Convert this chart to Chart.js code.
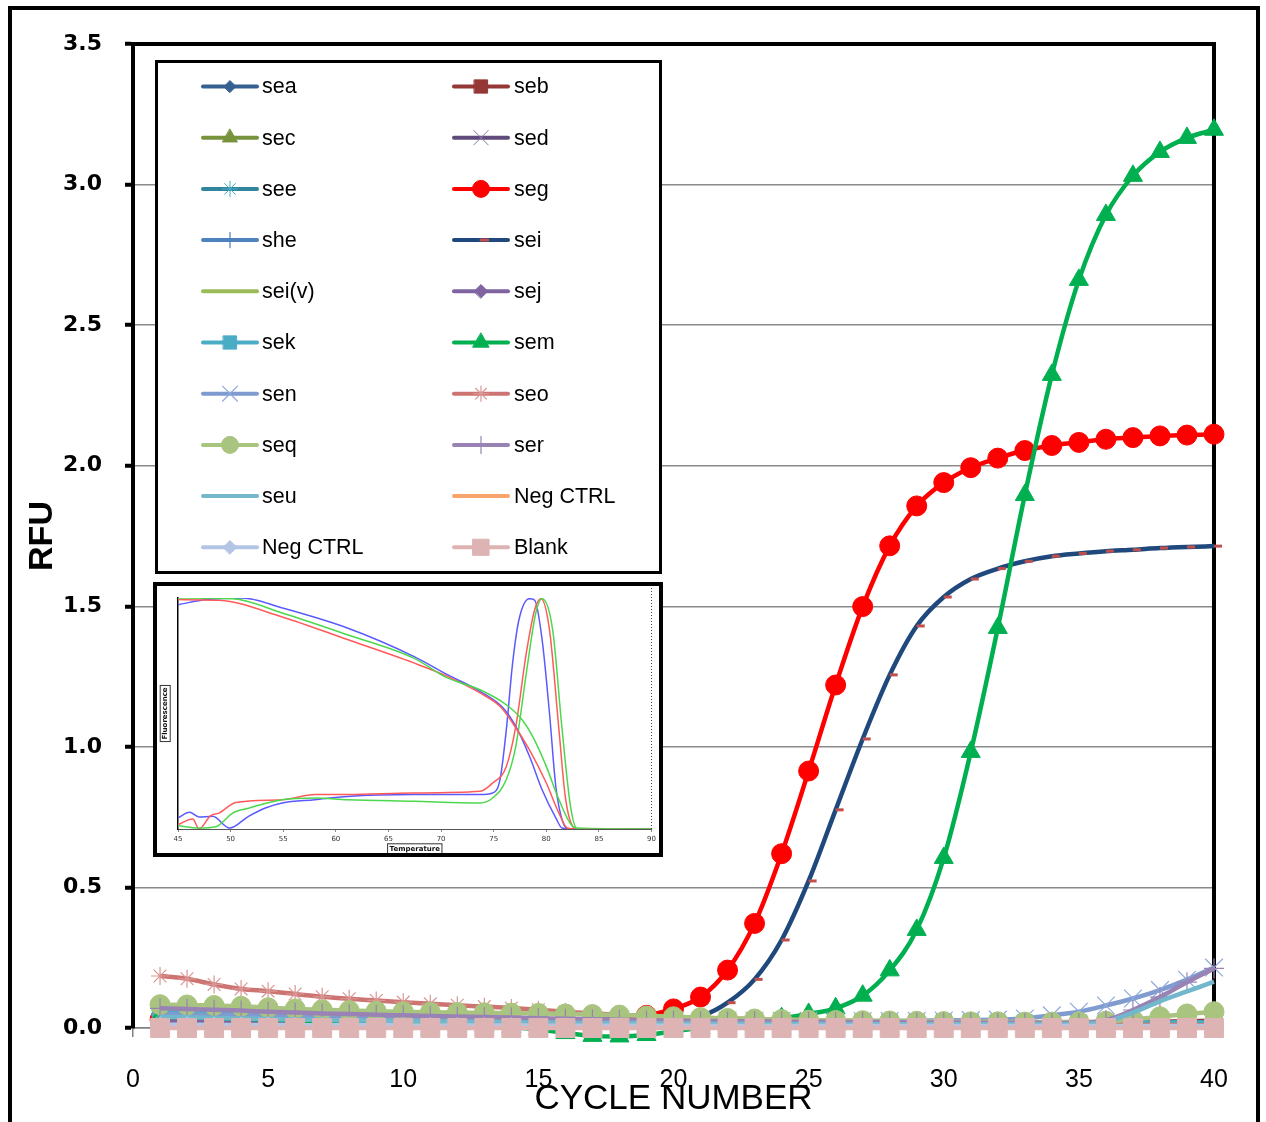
<!DOCTYPE html>
<html>
<head>
<meta charset="utf-8">
<script src="https://cdn.jsdelivr.net/npm/chart.js@4.4.1/dist/chart.umd.min.js"></script>
<style>
  html, body { margin: 0; padding: 0; background: #fff; }
  #wrap { position: relative; width: 1266px; height: 1122px; overflow: hidden; background: #fff; }
  #main { position: absolute; left: 0; top: 0; }
  #inset { position: absolute; left: 153px; top: 582px; width: 510px; height: 275px;
           border: 4px solid #000; box-sizing: border-box; background: #fff; }
  #melt { position: absolute; left: 0; top: 0; }
  #frame { position: absolute; left: 8px; top: 6px; width: 1252px; height: 1140px;
           border: 4px solid #000; box-sizing: border-box; pointer-events: none; }
</style>
</head>
<body>
<div id="wrap">
  <canvas id="main" width="1266" height="1122"></canvas>
  <div id="inset"><canvas id="melt" width="502" height="267"></canvas></div>
  <div id="frame"></div>
</div>
<script>
// ---- amplification data (RFU per cycle) ----
const cycles = [1,2,3,4,5,6,7,8,9,10,11,12,13,14,15,16,17,18,19,20,21,22,23,24,25,26,27,28,29,30,31,32,33,34,35,36,37,38,39,40];

const sea  = [0.035,0.034,0.032,0.031,0.030,0.029,0.028,0.027,0.026,0.025,0.025,0.024,0.023,0.023,0.022,0.022,0.021,0.021,0.020,0.020,0.019,0.019,0.019,0.018,0.018,0.018,0.017,0.017,0.017,0.016,0.016,0.016,0.016,0.015,0.015,0.015,0.015,0.015,0.014,0.014];
const seb  = [0.022,0.021,0.021,0.020,0.020,0.019,0.019,0.019,0.018,0.018,0.018,0.017,0.017,0.017,0.016,0.016,0.016,0.016,0.015,0.015,0.015,0.015,0.015,0.014,0.014,0.014,0.014,0.014,0.014,0.014,0.014,0.015,0.015,0.016,0.017,0.018,0.020,0.022,0.024,0.026];
const sec  = [0.030,0.029,0.027,0.026,0.025,0.024,0.023,0.022,0.021,0.020,0.019,0.018,0.017,0.016,0.015,0.014,0.013,0.012,0.012,0.011,0.011,0.010,0.010,0.010,0.009,0.009,0.009,0.009,0.008,0.008,0.008,0.008,0.008,0.008,0.008,0.008,0.008,0.008,0.008,0.008];
const sed  = [0.020,0.019,0.019,0.018,0.018,0.017,0.017,0.016,0.016,0.015,0.015,0.015,0.014,0.014,0.014,0.013,0.013,0.013,0.013,0.012,0.012,0.012,0.012,0.012,0.011,0.011,0.011,0.011,0.011,0.011,0.011,0.011,0.011,0.012,0.012,0.012,0.013,0.014,0.015,0.016];
const see  = [0.050,0.048,0.046,0.044,0.042,0.040,0.038,0.036,0.035,0.033,0.032,0.031,0.030,0.029,0.028,0.027,0.026,0.025,0.024,0.023,0.022,0.022,0.021,0.021,0.020,0.020,0.019,0.019,0.019,0.018,0.018,0.018,0.018,0.018,0.018,0.018,0.019,0.019,0.020,0.021];
const seg  = [0.030,0.030,0.029,0.029,0.028,0.028,0.028,0.027,0.027,0.027,0.026,0.026,0.026,0.026,0.026,0.027,0.029,0.034,0.045,0.068,0.110,0.206,0.372,0.620,0.914,1.220,1.499,1.715,1.857,1.940,1.993,2.027,2.054,2.072,2.083,2.094,2.100,2.106,2.109,2.112];
const she  = [0.045,0.044,0.042,0.040,0.038,0.036,0.035,0.033,0.032,0.031,0.030,0.029,0.028,0.027,0.026,0.025,0.024,0.024,0.023,0.022,0.022,0.021,0.021,0.020,0.020,0.019,0.019,0.019,0.018,0.018,0.018,0.018,0.018,0.018,0.018,0.018,0.018,0.018,0.018,0.018];
const sei  = [0.022,0.022,0.021,0.021,0.021,0.020,0.020,0.020,0.019,0.019,0.019,0.018,0.018,0.018,0.018,0.017,0.017,0.017,0.016,0.018,0.040,0.090,0.173,0.313,0.523,0.776,1.028,1.256,1.430,1.533,1.597,1.634,1.660,1.678,1.688,1.696,1.701,1.707,1.711,1.714];
const seiV = [0.030,0.029,0.028,0.027,0.026,0.025,0.024,0.023,0.022,0.021,0.020,0.019,0.018,0.017,0.016,0.015,0.014,0.013,0.013,0.012,0.012,0.011,0.011,0.011,0.010,0.010,0.010,0.010,0.010,0.010,0.010,0.010,0.010,0.010,0.010,0.010,0.011,0.011,0.012,0.012];
const sej  = [0.025,0.024,0.023,0.022,0.022,0.021,0.020,0.020,0.019,0.019,0.018,0.018,0.017,0.017,0.017,0.016,0.016,0.016,0.015,0.015,0.015,0.015,0.014,0.014,0.014,0.014,0.014,0.013,0.013,0.013,0.013,0.013,0.013,0.013,0.013,0.013,0.013,0.014,0.014,0.015];
const sek  = [0.060,0.058,0.055,0.052,0.049,0.047,0.045,0.043,0.041,0.039,0.037,0.036,0.034,0.033,0.032,0.030,0.029,0.028,0.027,0.026,0.025,0.024,0.024,0.023,0.022,0.022,0.021,0.021,0.020,0.020,0.020,0.019,0.019,0.019,0.019,0.019,0.019,0.019,0.020,0.020];
const sem  = [0.040,0.038,0.035,0.032,0.030,0.027,0.025,0.022,0.020,0.017,0.014,0.011,0.007,0.003,-0.005,-0.018,-0.028,-0.030,-0.025,-0.012,0.000,0.012,0.022,0.035,0.050,0.070,0.115,0.205,0.349,0.605,0.982,1.423,1.896,2.323,2.661,2.892,3.031,3.116,3.166,3.195];
const sen  = [0.050,0.048,0.046,0.045,0.043,0.042,0.040,0.039,0.038,0.037,0.036,0.035,0.034,0.033,0.032,0.031,0.030,0.029,0.028,0.028,0.027,0.027,0.026,0.026,0.026,0.025,0.025,0.025,0.026,0.027,0.028,0.030,0.034,0.045,0.058,0.080,0.105,0.135,0.172,0.215];
const seo  = [0.185,0.175,0.155,0.139,0.131,0.121,0.111,0.104,0.098,0.092,0.086,0.081,0.076,0.071,0.065,0.058,0.052,0.047,0.043,0.040,0.037,0.034,0.032,0.030,0.028,0.026,0.024,0.022,0.020,0.018,0.016,0.015,0.014,0.013,0.012,0.012,0.011,0.011,0.010,0.010];
const seq  = [0.083,0.082,0.080,0.077,0.072,0.068,0.065,0.062,0.060,0.058,0.056,0.055,0.054,0.053,0.052,0.050,0.048,0.046,0.043,0.040,0.037,0.034,0.032,0.030,0.028,0.027,0.026,0.025,0.024,0.023,0.022,0.022,0.021,0.021,0.022,0.024,0.030,0.040,0.050,0.058];
const ser  = [0.070,0.068,0.065,0.062,0.058,0.055,0.052,0.050,0.047,0.045,0.043,0.041,0.039,0.037,0.035,0.033,0.031,0.029,0.027,0.026,0.025,0.024,0.024,0.023,0.022,0.022,0.021,0.021,0.020,0.020,0.019,0.019,0.019,0.018,0.018,0.028,0.064,0.110,0.163,0.212];
const seu  = [0.040,0.038,0.036,0.034,0.032,0.030,0.029,0.027,0.026,0.025,0.024,0.023,0.022,0.021,0.020,0.019,0.018,0.018,0.017,0.016,0.016,0.015,0.015,0.014,0.014,0.014,0.013,0.013,0.013,0.013,0.013,0.013,0.013,0.013,0.013,0.022,0.055,0.095,0.130,0.165];
const negCtrl1 = [0.008,0.008,0.008,0.007,0.007,0.007,0.007,0.006,0.006,0.006,0.006,0.006,0.005,0.005,0.005,0.005,0.005,0.005,0.005,0.005,0.004,0.004,0.004,0.004,0.004,0.004,0.004,0.004,0.004,0.004,0.004,0.004,0.004,0.004,0.004,0.004,0.004,0.004,0.004,0.004];
const negCtrl2 = [0.012,0.012,0.011,0.011,0.011,0.010,0.010,0.010,0.010,0.009,0.009,0.009,0.009,0.009,0.008,0.008,0.008,0.008,0.008,0.008,0.008,0.007,0.007,0.007,0.007,0.007,0.007,0.007,0.007,0.007,0.007,0.007,0.007,0.007,0.007,0.007,0.007,0.007,0.007,0.007];
const blank = [0,0,0,0,0,0,0,0,0,0,0,0,0,0,0,0,0,0,0,0,0,0,0,0,0,0,0,0,0,0,0,0,0,0,0,0,0,0,0,0];

const seriesNames = ['sea','seb','sec','sed','see','seg','she','sei','sei(v)','sej','sek','sem','sen','seo','seq','ser','seu','Neg CTRL','Neg CTRL','Blank'];
const seriesValues = [sea, seb, sec, sed, see, seg, she, sei, seiV, sej, sek, sem, sen, seo, seq, ser, seu, negCtrl1, negCtrl2, blank];

const yTickLabels = ['0.0','0.5','1.0','1.5','2.0','2.5','3.0','3.5'];

// ---- inset melt curve data (normalised) ----
const meltBlueT  = [45, 47.7, 51.1, 54.9, 61.1, 67.4, 70.6, 73.7, 75.9, 77.1, 78.4, 79.6, 80.9, 81.5, 82.5, 90];
const meltBlueV  = [0.971, 0.993, 1.0, 0.957, 0.87, 0.747, 0.668, 0.596, 0.524, 0.444, 0.315, 0.17, 0.048, 0.004, 0, 0];
const meltRedT   = [45, 48.9, 54.9, 61.1, 67.4, 70.6, 73.7, 75.6, 76.8, 78.4, 80.0, 81.2, 82.0, 82.8, 90];
const meltRedV   = [0.993, 0.99, 0.918, 0.82, 0.719, 0.661, 0.589, 0.531, 0.459, 0.343, 0.199, 0.069, 0.004, 0, 0];
const meltGreenT = [45, 50.2, 54.9, 61.1, 67.4, 70.6, 73.7, 76.2, 77.7, 78.7, 80.0, 81.2, 82.5, 83.5, 90];
const meltGreenV = [1.0, 0.997, 0.935, 0.841, 0.74, 0.654, 0.603, 0.538, 0.473, 0.401, 0.271, 0.127, 0.012, 0, 0];

const peakBlueT  = [45, 46.1, 47.0, 48.3, 49.9, 51.7, 53.3, 54.9, 58, 61.1, 67.4, 73.7, 74.9, 75.6, 76.2, 76.8, 77.4, 78.4, 78.9, 79.6, 80.3, 80.9, 81.5, 82.1, 90];
const peakBlueV  = [0.048, 0.072, 0.052, 0.055, 0.004, 0.055, 0.091, 0.113, 0.127, 0.141, 0.149, 0.149, 0.156, 0.214, 0.43, 0.719, 0.906, 0.997, 0.99, 0.82, 0.502, 0.185, 0.04, 0, 0];
const peakRedT   = [45, 46.4, 47.0, 48.1, 48.9, 50.5, 54.9, 58, 61.1, 67.4, 73.7, 74.9, 76.2, 77.1, 78.1, 78.9, 79.5, 80.3, 81.2, 81.8, 82.5, 83, 90];
const peakRedV   = [0.019, 0.043, 0, 0.058, 0.069, 0.115, 0.127, 0.149, 0.149, 0.156, 0.163, 0.199, 0.271, 0.444, 0.762, 0.95, 0.997, 0.863, 0.43, 0.141, 0.012, 0, 0];
const peakGreenT = [45, 47.0, 48.6, 50.2, 51.7, 54.9, 58, 61.1, 67.4, 73.7, 74.9, 76.2, 77.1, 78.1, 79.0, 79.6, 80.6, 81.5, 82.3, 82.9, 90];
const peakGreenV = [0.014, 0.004, 0.01, 0.069, 0.09, 0.127, 0.134, 0.127, 0.12, 0.113, 0.134, 0.214, 0.358, 0.675, 0.935, 0.997, 0.863, 0.43, 0.098, 0.004, 0];

// ---- styles ----
const SANS = '"Liberation Sans", Arial, sans-serif';
const seriesStyles = [
  { color: '#376092', marker: 'rectRot',  size: 7 },
  { color: '#953735', marker: 'rect',     size: 11 },
  { color: '#77933C', marker: 'triangle', size: 10 },
  { color: '#604A7B', marker: 'crossRot', size: 12, edge: '#8B76A8', edgeWidth: 1 },
  { color: '#31859C', marker: 'star',     size: 9,  edge: '#4BACC6', edgeWidth: 1 },
  { color: '#FF0000', marker: 'circle',   size: 10 },
  { color: '#4F81BD', marker: 'cross',    size: 9,  edgeWidth: 1.2 },
  { color: '#1F497D', marker: 'dash',     size: 8,  edge: '#C0504D', edgeWidth: 3 },
  { color: '#9BBB59' },
  { color: '#8064A2', marker: 'rectRot',  size: 8 },
  { color: '#4BACC6', marker: 'rect',     size: 11 },
  { color: '#00B050', marker: 'triangle', size: 11 },
  { color: '#7F9BCF', marker: 'crossRot', size: 12.5, edge: '#8EA9DB', edgeWidth: 1.2 },
  { color: '#CD7472', marker: 'star',     size: 9,  edge: '#D99694', edgeWidth: 1.2 },
  { color: '#A9C47F', marker: 'circle',   size: 10 },
  { color: '#9983B5', marker: 'cross',    size: 10, edgeWidth: 1.2 },
  { color: '#72B7CC' },
  { color: '#F9A46C' },
  { color: '#B3C5E4', marker: 'rectRot',  size: 8 },
  { color: '#DDB4B3', marker: 'rect',     size: 13.4 },
];

const datasets = seriesNames.map((name, i) => {
  const s = seriesStyles[i];
  return {
    label: name,
    data: cycles.map((c, k) => ({ x: c, y: seriesValues[i][k] })),
    borderColor: s.color,
    backgroundColor: s.color,
    borderWidth: 4.5,
    pointStyle: s.marker || false,
    pointRadius: s.marker ? s.size : 0,
    pointBackgroundColor: s.color,
    pointBorderColor: s.edge || s.color,
    pointBorderWidth: s.edgeWidth || 1,
    cubicInterpolationMode: 'monotone',
    order: -i,      // later series on top, like the original
    clip: false,
  };
});

// top and right frame of the plot area
const plotFrame = {
  id: 'plotFrame',
  beforeDatasetsDraw(chart) {
    const { ctx, chartArea: { top, right, bottom, left } } = chart;
    ctx.save();
    ctx.strokeStyle = '#000';
    ctx.lineWidth = 4;
    ctx.lineCap = 'square';
    ctx.beginPath();
    ctx.moveTo(left, top);
    ctx.lineTo(right, top);
    ctx.lineTo(right, bottom + 8);
    ctx.stroke();
    ctx.restore();
  },
};

// legend in two columns inside the plot
const legendBox = {
  id: 'legendBox',
  afterDraw(chart) {
    const { ctx } = chart;
    ctx.save();
    ctx.fillStyle = '#fff';
    ctx.fillRect(156.5, 61.5, 504, 511);
    ctx.lineWidth = 3;
    ctx.strokeStyle = '#000';
    ctx.strokeRect(156.5, 61.5, 504, 511);
    ctx.font = '21.5px ' + SANS;
    ctx.textBaseline = 'middle';
    chart.data.datasets.forEach((ds, i) => {
      const col = i % 2;
      const row = Math.floor(i / 2);
      const x0 = col ? 454 : 203;
      const y = 86.5 + row * 51.2;
      ctx.save();
      ctx.strokeStyle = ds.borderColor;
      ctx.lineWidth = 4;
      ctx.lineCap = 'round';
      ctx.beginPath();
      ctx.moveTo(x0, y);
      ctx.lineTo(x0 + 54, y);
      ctx.stroke();
      if (ds.pointStyle) {
        ctx.fillStyle = ds.pointBackgroundColor;
        ctx.strokeStyle = ds.pointBorderColor;
        ctx.lineWidth = ds.pointBorderWidth;
        Chart.helpers.drawPoint(ctx, {
          pointStyle: ds.pointStyle,
          radius: ds.pointRadius * 0.85,
          rotation: 0,
          borderWidth: ds.pointBorderWidth,
        }, x0 + 27, y);
      }
      ctx.restore();
      ctx.fillStyle = '#000';
      ctx.fillText(ds.label, col ? 514 : 262, y + 1);
    });
    ctx.restore();
  },
};

new Chart(document.getElementById('main'), {
  type: 'line',
  data: { datasets },
  options: {
    responsive: false,
    animation: false,
    layout: { padding: { left: 0, top: 44, right: 52, bottom: 0 } },
    plugins: { legend: { display: false }, tooltip: { enabled: false } },
    scales: {
      x: {
        type: 'linear', min: 0, max: 40,
        ticks: { stepSize: 5, color: '#000', padding: 28, maxRotation: 0, autoSkip: false,
                 font: { family: SANS, size: 25 } },
        grid: { drawOnChartArea: false, color: '#808080', lineWidth: 1.5, tickLength: 9 },
        border: { color: '#808080', width: 1.5 },
        title: { display: true, text: 'CYCLE NUMBER', color: '#000',
                 font: { family: SANS, size: 35, lineHeight: 1 }, padding: { top: 0, bottom: 5 } },
        afterFit(scale) { scale.height = 94; },
      },
      y: {
        min: 0, max: 3.5,
        ticks: { stepSize: 0.5, color: '#000', padding: 23,
                 font: { family: '"DejaVu Sans", sans-serif', size: 22, weight: 'bold' },
                 callback: (v, i) => yTickLabels[i] },
        grid: { color: '#8a8a8a', lineWidth: 1.5, tickLength: 8, tickColor: '#000', tickWidth: 4 },
        border: { color: '#000', width: 4 },
        title: { display: true, text: 'RFU', color: '#000',
                 font: { family: SANS, size: 34, weight: 'bold', lineHeight: 1 }, padding: { top: 26, bottom: 0 } },
        afterFit(scale) { scale.width = 133; },
      },
    },
  },
  plugins: [plotFrame, legendBox],
});

// ---- inset: melt curves ----
const meltDecor = {
  id: 'meltDecor',
  afterDraw(chart) {
    const { ctx, scales: { x, y } } = chart;
    ctx.save();
    ctx.strokeStyle = '#444';
    ctx.lineWidth = 1;
    ctx.setLineDash([1, 2]);
    const xr = x.getPixelForValue(90);
    ctx.beginPath();
    ctx.moveTo(xr, 2);
    ctx.lineTo(xr, y.bottom);
    ctx.stroke();
    ctx.setLineDash([]);
    // small boxes round the axis titles
    ctx.strokeStyle = '#333';
    ctx.lineWidth = 1;
    ctx.font = 'bold 7px "DejaVu Sans", sans-serif';
    const wx = ctx.measureText('Temperature').width;
    const cx = (x.left + x.right) / 2;
    const cy = x.bottom - 4.2;
    ctx.strokeRect(cx - wx / 2 - 2, cy - 5, wx + 4, 10);
    const wy = ctx.measureText('Fluorescence').width;
    const yx = y.left + 4.2 + 4;
    const yy = (y.top + y.bottom) / 2;
    ctx.strokeRect(yx - 5, yy - wy / 2 - 2, 10, wy + 4);
    ctx.restore();
  },
};

const meltLine = (t, v, color) => ({
  data: t.map((tt, k) => ({ x: tt, y: v[k] })),
  borderColor: color,
  borderWidth: 1.5,
  pointRadius: 0,
  showLine: true,
  cubicInterpolationMode: 'monotone',
});

new Chart(document.getElementById('melt'), {
  type: 'scatter',
  data: {
    datasets: [
      meltLine(meltGreenT, meltGreenV, '#4cd84c'),
      meltLine(meltRedT, meltRedV, '#ff5a5a'),
      meltLine(meltBlueT, meltBlueV, '#5a5aff'),
      meltLine(peakGreenT, peakGreenV, '#4cd84c'),
      meltLine(peakRedT, peakRedV, '#ff5a5a'),
      meltLine(peakBlueT, peakBlueV, '#5a5aff'),
    ],
  },
  options: {
    responsive: false,
    animation: false,
    layout: { padding: { left: 0, right: 2, top: 12, bottom: 0 } },
    plugins: { legend: { display: false }, tooltip: { enabled: false } },
    scales: {
      x: {
        type: 'linear', min: 45, max: 90,
        ticks: { stepSize: 5, color: '#333', padding: 3, maxRotation: 0, autoSkip: false,
                 font: { family: '"DejaVu Sans", sans-serif', size: 7 } },
        grid: { drawOnChartArea: false, color: '#888', tickLength: 3 },
        border: { color: '#555', width: 1 },
        title: { display: true, text: 'Temperature', color: '#111',
                 font: { family: '"DejaVu Sans", sans-serif', size: 7, weight: 'bold', lineHeight: 1.2 },
                 padding: { top: 0, bottom: 0 } },
        afterFit(scale) { scale.height = 24; },
      },
      y: {
        min: 0, max: 1,
        ticks: { display: false },
        grid: { display: false },
        border: { color: '#000', width: 1.5, dash: [4, 2] },
        title: { display: true, text: 'Fluorescence', color: '#111',
                 font: { family: '"DejaVu Sans", sans-serif', size: 7, weight: 'bold', lineHeight: 1.2 },
                 padding: { top: 4, bottom: 0 } },
        afterFit(scale) { scale.width = 21; },
      },
    },
  },
  plugins: [meltDecor],
});
</script>
</body>
</html>
